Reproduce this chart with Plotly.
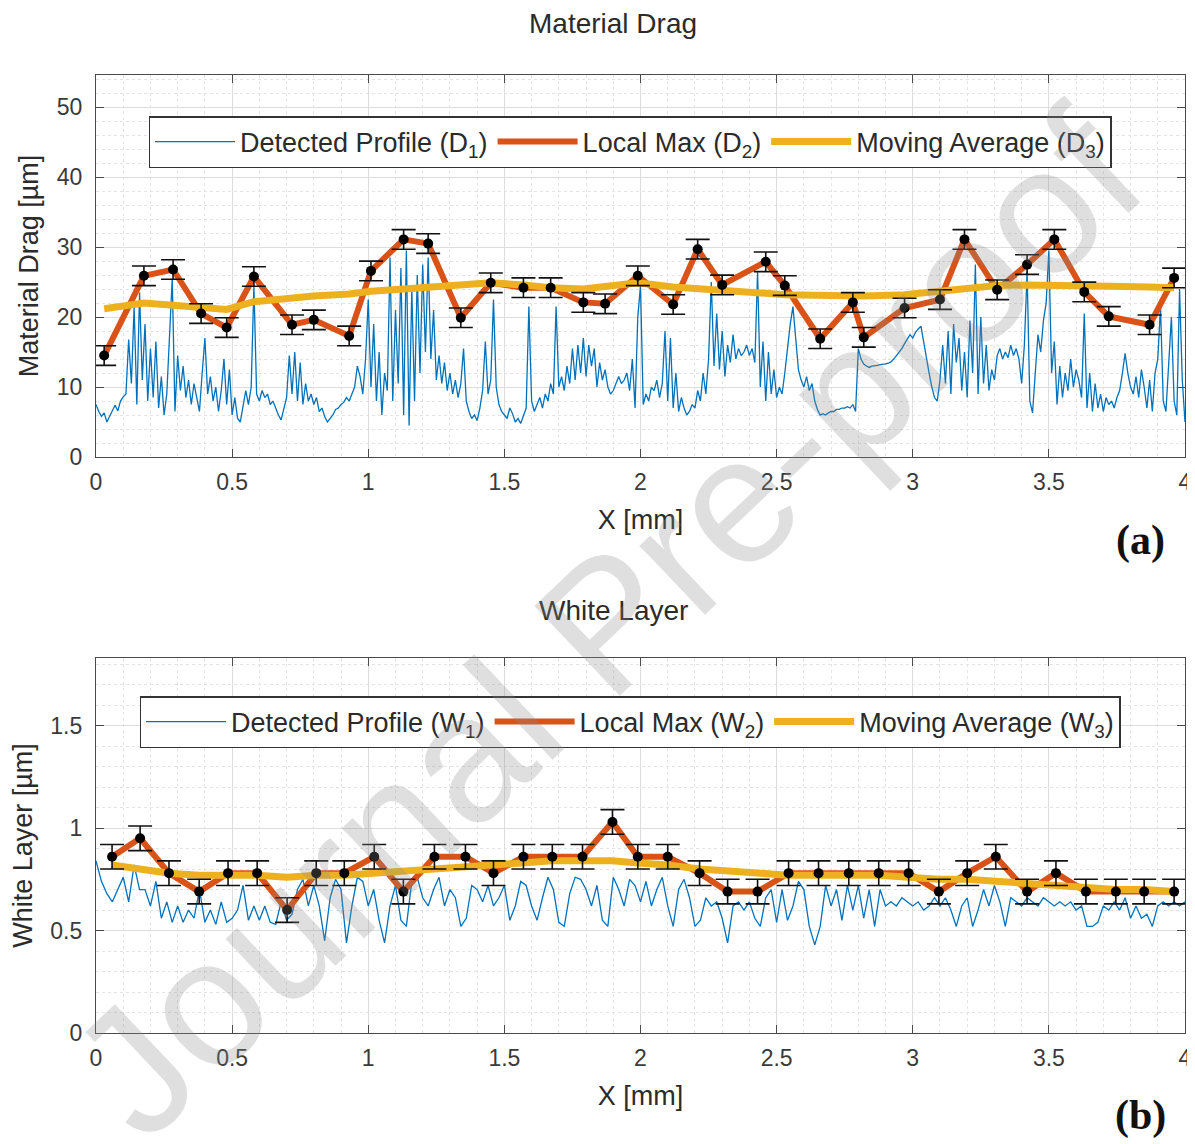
import numpy as np
import plotly.graph_objects as go
from plotly.subplots import make_subplots

# ---------------- Material Drag (a) ----------------
# Detected profile D1, sampled every 0.01 mm from 0 to 4 mm
d1_x = np.round(np.arange(0, 401) * 0.01, 2)
d1_y = [
    7.5, 6.5, 5.8, 6.3, 5.0, 5.8, 6.8, 7.4, 6.6, 8.0, 8.6, 9.0, 16.8, 10.5, 21.5, 7.5, 23.5, 11.0, 19.0, 8.0,
    15.5, 8.5, 16.5, 7.0, 11.5, 6.0, 9.0, 17.0, 25.5, 6.5, 14.5, 9.5, 13.0, 8.5, 11.0, 7.5, 10.5, 8.5, 6.5, 12.0,
    17.0, 9.0, 11.5, 8.0, 10.0, 6.5, 9.5, 14.0, 7.5, 12.5, 6.0, 8.5, 5.5, 5.0, 7.0, 9.5, 7.5, 10.0, 24.5, 9.0,
    8.0, 9.5, 8.5, 9.0, 7.5, 8.0, 7.0, 6.0, 5.3, 7.0, 8.5, 14.5, 9.0, 15.0, 8.0, 13.5, 7.5, 10.5, 8.0, 9.0,
    7.5, 8.5, 6.5, 7.0, 5.8, 5.0, 5.5, 6.0, 6.8, 7.0, 7.5, 7.8, 8.5, 8.0, 9.0, 10.0, 13.0, 11.5, 9.0, 14.0,
    22.5, 10.0, 19.0, 8.0, 15.0, 6.0, 12.0, 9.5, 28.5, 8.0, 21.0, 10.5, 27.0, 6.0, 29.5, 4.5, 24.0, 8.0, 26.0, 12.0,
    27.5, 15.0, 28.5, 14.0, 21.0, 11.0, 14.5, 10.5, 13.5, 9.5, 12.0, 9.0, 11.0, 8.5, 10.5, 15.5, 8.0, 6.5, 5.5, 6.0,
    5.2, 7.0, 9.5, 16.5, 9.0, 11.0, 22.5, 10.0, 7.5, 6.5, 6.0, 5.5, 7.0, 6.2, 5.0, 5.5, 4.8, 6.0, 7.0, 21.5,
    8.0, 6.5, 7.5, 8.5, 7.0, 9.0, 8.0, 10.5, 9.0, 21.5, 10.0, 11.5, 9.5, 13.0, 10.5, 15.5, 11.0, 16.0, 12.0, 17.0,
    11.5, 16.0, 13.0, 15.5, 10.0, 13.5, 11.0, 12.5, 10.0, 9.0, 9.5, 10.5, 11.5, 10.5, 11.0, 12.0, 9.5, 14.0, 7.0, 20.0,
    24.5, 7.5, 9.0, 8.0, 10.0, 9.5, 11.0, 8.5, 10.5, 18.0, 8.0, 17.0, 7.0, 12.0, 6.5, 8.5, 7.0, 6.0, 6.5, 7.5,
    7.0, 9.5, 8.0, 12.0, 9.0, 14.0, 25.0, 13.0, 20.5, 12.5, 18.0, 11.5, 16.0, 13.5, 17.5, 14.0, 15.5, 14.5, 15.0, 16.0,
    14.5, 15.5, 13.5, 26.5, 10.0, 16.5, 8.0, 15.0, 9.0, 12.5, 8.5, 10.0, 9.0, 12.0, 15.5, 19.0, 21.5, 17.0, 12.5, 11.0,
    10.0, 11.5, 9.5, 10.5, 8.0, 6.8, 6.0, 6.2, 6.0, 6.3, 6.5, 6.5, 6.8, 6.8, 7.0, 7.0, 7.2, 7.0, 7.5, 6.5,
    15.5, 14.0, 13.3, 13.0, 12.8, 13.0, 13.0, 13.1, 13.2, 13.2, 13.3, 13.4, 13.6, 14.0, 14.5, 15.0, 15.5, 16.2, 16.8, 17.5,
    17.0, 17.8, 18.3, 18.7, 16.5, 14.0, 12.0, 10.0, 8.5, 8.0, 11.0, 16.0, 10.5, 18.0, 9.0, 19.0, 13.5, 17.0, 9.5, 15.0,
    8.5, 19.5, 12.0, 27.5, 9.0, 20.0, 10.5, 16.0, 9.5, 12.5, 11.0, 14.5, 15.5, 14.0, 15.0, 14.2, 16.0, 14.5, 15.5, 14.0,
    10.5, 16.0, 26.5, 8.0, 6.3, 12.0, 17.5, 15.0, 19.5, 22.0, 29.5, 12.0, 16.5, 7.5, 13.0, 8.5, 12.0, 9.5, 14.0, 10.0,
    12.5, 11.0, 8.5, 20.5, 7.0, 12.0, 6.5, 10.5, 7.0, 9.0, 6.5, 8.5, 7.5, 8.0, 7.0, 8.5, 9.5, 12.0, 14.8, 12.0,
    10.0, 9.0, 11.5, 8.5, 12.5, 10.0, 7.0, 11.0, 6.5, 12.0, 14.0, 21.5, 8.0, 6.5, 12.5, 20.0, 8.0, 6.0, 24.0, 11.0,
    5.0,
]

# Local maxima D2 and moving average D3
d2_x = [0.03, 0.176, 0.283, 0.386, 0.48, 0.58, 0.72, 0.80, 0.93, 1.01, 1.13, 1.22, 1.34,
        1.45, 1.57, 1.67, 1.79, 1.87, 1.99, 2.12, 2.21, 2.30, 2.46, 2.53, 2.66, 2.78,
        2.82, 2.97, 3.10, 3.19, 3.31, 3.42, 3.52, 3.63, 3.72, 3.87, 3.96]
d2_y = [14.5, 25.9, 26.8, 20.5, 18.5, 25.8, 18.9, 19.6, 17.3, 26.6, 31.1, 30.5, 19.9,
        24.9, 24.2, 24.2, 22.1, 21.9, 25.9, 21.8, 29.7, 24.6, 27.9, 24.5, 16.9, 22.1,
        17.1, 21.3, 22.5, 31.1, 23.9, 27.5, 31.1, 23.6, 20.1, 18.9, 25.6]
d2_err = 1.4
d3_y = [21.2, 22.0, 21.7, 21.3, 21.1, 22.2, 22.8, 23.0, 23.3, 23.7, 24.0, 24.3, 24.6,
        24.9, 24.6, 24.2, 24.0, 24.3, 24.9, 24.3, 24.0, 23.8, 23.4, 23.2, 23.0, 23.0,
        23.0, 23.2, 23.7, 24.1, 24.5, 24.6, 24.6, 24.5, 24.4, 24.3, 24.2]

# ---------------- White Layer (b) ----------------
w1_x = np.round(np.arange(0, 201) * 0.02, 2)
w1_y = [
    0.84, 0.74, 0.68, 0.64, 0.70, 0.76, 0.64, 0.82, 0.70, 0.70,
    0.62, 0.74, 0.56, 0.64, 0.54, 0.62, 0.54, 0.60, 0.56, 0.70,
    0.54, 0.60, 0.53, 0.64, 0.54, 0.56, 0.60, 0.72, 0.55, 0.62,
    0.55, 0.62, 0.54, 0.53, 0.64, 0.55, 0.58, 0.70, 0.75, 0.62,
    0.72, 0.62, 0.45, 0.66, 0.75, 0.70, 0.44, 0.62, 0.76, 0.74,
    0.62, 0.70, 0.55, 0.44, 0.62, 0.72, 0.55, 0.52, 0.74, 0.76,
    0.66, 0.62, 0.70, 0.76, 0.62, 0.70, 0.66, 0.52, 0.56, 0.72,
    0.70, 0.64, 0.72, 0.62, 0.66, 0.72, 0.55, 0.62, 0.74, 0.72,
    0.62, 0.55, 0.66, 0.76, 0.70, 0.54, 0.52, 0.68, 0.76, 0.75,
    0.70, 0.62, 0.72, 0.55, 0.52, 0.76, 0.70, 0.62, 0.75, 0.72,
    0.64, 0.74, 0.62, 0.70, 0.76, 0.62, 0.52, 0.70, 0.75, 0.66,
    0.52, 0.55, 0.66, 0.62, 0.64, 0.56, 0.44, 0.62, 0.64, 0.60,
    0.64, 0.56, 0.52, 0.66, 0.70, 0.54, 0.70, 0.55, 0.62, 0.74,
    0.70, 0.52, 0.43, 0.52, 0.72, 0.62, 0.70, 0.55, 0.72, 0.60,
    0.72, 0.56, 0.70, 0.52, 0.70, 0.62, 0.64, 0.62, 0.66, 0.64,
    0.62, 0.64, 0.60, 0.62, 0.66, 0.62, 0.66, 0.60, 0.52, 0.62,
    0.66, 0.52, 0.60, 0.70, 0.62, 0.72, 0.64, 0.52, 0.66, 0.64,
    0.62, 0.66, 0.64, 0.62, 0.66, 0.64, 0.62, 0.64, 0.62, 0.64,
    0.60, 0.62, 0.52, 0.52, 0.54, 0.62, 0.60, 0.64, 0.60, 0.66,
    0.56, 0.62, 0.56, 0.58, 0.52, 0.62, 0.64, 0.62, 0.64, 0.62,
    0.64,
]
w2_x = [0.059, 0.162, 0.268, 0.379, 0.485, 0.592, 0.702, 0.809, 0.912, 1.022, 1.129, 1.243,
        1.357, 1.46, 1.57, 1.676, 1.787, 1.897, 1.99, 2.10, 2.217, 2.32, 2.43, 2.544,
        2.654, 2.765, 2.875, 2.985, 3.096, 3.2, 3.305, 3.42, 3.526, 3.636, 3.746, 3.85, 3.96]
w2_y = [0.86, 0.95, 0.78, 0.69, 0.78, 0.78, 0.60, 0.78, 0.78, 0.86, 0.69, 0.86,
        0.86, 0.78, 0.86, 0.86, 0.86, 1.03, 0.86, 0.86, 0.78, 0.69, 0.69, 0.78,
        0.78, 0.78, 0.78, 0.78, 0.69, 0.78, 0.86, 0.69, 0.78, 0.69, 0.69, 0.69, 0.69]
w2_err = 0.06
w3_y = [0.82, 0.80, 0.78, 0.77, 0.77, 0.77, 0.76, 0.77, 0.77, 0.78, 0.79, 0.80,
        0.81, 0.82, 0.83, 0.84, 0.84, 0.84, 0.83, 0.82, 0.80, 0.79, 0.78, 0.77,
        0.77, 0.77, 0.77, 0.76, 0.75, 0.75, 0.74, 0.73, 0.72, 0.71, 0.70, 0.70, 0.69]

x_ticks = [0, 0.5, 1, 1.5, 2, 2.5, 3, 3.5, 4]
x_ticklabels = ["0", "0.5", "1", "1.5", "2", "2.5", "3", "3.5", "4"]
top_yticks = [0, 10, 20, 30, 40, 50]
bot_yticks = [0, 0.5, 1, 1.5]
bot_yticklabels = ["0", "0.5", "1", "1.5"]

BLUE = "#0072BD"
ORANGE = "#D95319"
YELLOW = "#EDB120"
FONT = "Liberation Sans, Arial, sans-serif"
TXT = "#2b2b2b"

# page body adds an 8px offset; work in window pixels and convert
OFF = 8
W, H = 1195 - OFF, 1144 - OFF
PL, PR, PT, PB = 96, 1185, 75, 1033          # plot-area edges in window pixels
L, R, T, B = PL - OFF, W - (PR - OFF), PT - OFF, H - (PB - OFF)
ph = H - T - B
pw = W - L - R

def px_x(p):
    return (p - OFF - L) / pw

def px_y(p):
    return 1 - (p - OFF - T) / ph

top_dom = [px_y(457), 1.0]
bot_dom = [0.0, px_y(658)]

fig = make_subplots(rows=2, cols=1)

def add_panel(row, px, py, mx, my, my_err, ay, names, legend):
    fig.add_trace(go.Scatter(x=px, y=py, mode="lines", name=names[0],
                             line=dict(color=BLUE, width=1.3), legend=legend), row=row, col=1)
    fig.add_trace(go.Scatter(x=mx, y=my, mode="lines", name=names[1],
                             line=dict(color=ORANGE, width=6), legend=legend), row=row, col=1)
    fig.add_trace(go.Scatter(x=mx, y=ay, mode="lines", name=names[2],
                             line=dict(color=YELLOW, width=7), legend=legend), row=row, col=1)
    fig.add_trace(go.Scatter(x=mx, y=my, mode="markers", showlegend=False,
                             marker=dict(color="black", size=10),
                             error_y=dict(type="constant", value=my_err, color="#111111",
                                          thickness=1.6, width=12)), row=row, col=1)

add_panel(1, d1_x, d1_y, d2_x, d2_y, d2_err, d3_y,
          ["Detected Profile (D<sub>1</sub>)", "Local Max (D<sub>2</sub>)",
           "Moving Average (D<sub>3</sub>)"], "legend")
add_panel(2, w1_x, w1_y, w2_x, w2_y, w2_err, w3_y,
          ["Detected Profile (W<sub>1</sub>)", "Local Max (W<sub>2</sub>)",
           "Moving Average (W<sub>3</sub>)"], "legend2")

axis_common = dict(
    showline=True, linecolor="#4a4a4a", linewidth=1.2, mirror="ticks",
    ticks="inside", ticklen=8, tickcolor="#4a4a4a", tickwidth=1,
    showgrid=True, gridcolor="#dddddd", gridwidth=1, automargin=False,
    zeroline=False, tickfont=dict(family=FONT, size=23, color="#3a3a3a"),
)

for i in (1, 2):
    fig.update_xaxes(row=i, col=1, range=[0, 4], tickvals=x_ticks, ticktext=x_ticklabels,
                     ticklabelstandoff=4,
                     title=dict(text="X [mm]", font=dict(family=FONT, size=27, color=TXT), standoff=16),
                     minor=dict(dtick=0.1, showgrid=True, gridcolor="#e4e4e4", griddash="dot", gridwidth=1),
                     **axis_common)

fig.update_yaxes(row=1, col=1, range=[0, 54.6], tickvals=top_yticks, domain=top_dom,
                 ticklabelstandoff=8,
                 title=dict(text="Material Drag [µm]", font=dict(family=FONT, size=27, color=TXT), standoff=10),
                 minor=dict(dtick=2, showgrid=True, gridcolor="#e4e4e4", griddash="dot", gridwidth=1),
                 **axis_common)
fig.update_yaxes(row=2, col=1, range=[0, 1.83], tickvals=bot_yticks, ticktext=bot_yticklabels, domain=bot_dom,
                 ticklabelstandoff=8,
                 title=dict(text="White Layer [µm]", font=dict(family=FONT, size=27, color=TXT), standoff=10),
                 minor=dict(dtick=0.1, showgrid=True, gridcolor="#e4e4e4", griddash="dot", gridwidth=1),
                 **axis_common)

legend_style = dict(orientation="h", bgcolor="white", bordercolor="#333333", borderwidth=1.5,
                    font=dict(family=FONT, size=27, color=TXT), xanchor="center", yanchor="top",
                    itemwidth=80, tracegroupgap=0)
fig.update_layout(
    width=W, height=H, margin=dict(l=L, r=R, t=T, b=B, autoexpand=False),
    paper_bgcolor="white", plot_bgcolor="white",
    legend=dict(x=px_x(630), y=px_y(116), **legend_style),
    legend2=dict(x=px_x(630), y=px_y(696), **legend_style),
)

annots = [
    dict(text="Material Drag", x=px_x(613), y=px_y(24), font=dict(family=FONT, size=28, color=TXT)),
    dict(text="White Layer", x=px_x(613), y=px_y(610), font=dict(family=FONT, size=28, color=TXT)),
    dict(text="<b>(a)</b>", x=px_x(1140), y=px_y(540),
         font=dict(family="Liberation Serif, DejaVu Serif, serif", size=42, color="#111111")),
    dict(text="<b>(b)</b>", x=px_x(1140), y=px_y(1115),
         font=dict(family="Liberation Serif, DejaVu Serif, serif", size=42, color="#111111")),
    dict(text="Journal Pre-proof", x=px_x(606), y=px_y(622), textangle=-43.5,
         font=dict(family=FONT, size=180, color="rgba(140,140,140,0.28)")),
]
for a in annots:
    fig.add_annotation(xref="paper", yref="paper", showarrow=False,
                       xanchor="center", yanchor="middle", **a)

fig.write_html("out.html")
